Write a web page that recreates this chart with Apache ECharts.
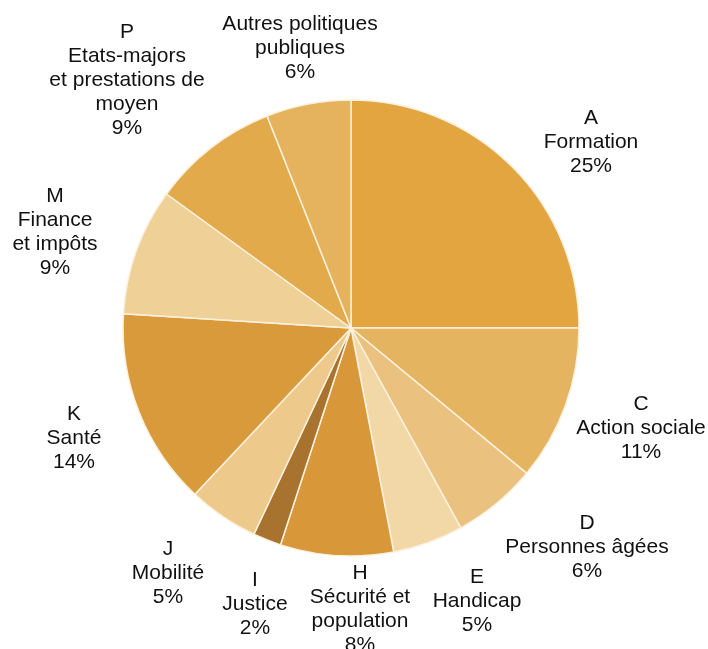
<!DOCTYPE html>
<html>
<head>
<meta charset="utf-8">
<script src="https://cdn.jsdelivr.net/npm/echarts@6/dist/echarts.min.js"></script>
<style>
  html, body { margin: 0; padding: 0; background: #ffffff; }
  #chart { width: 708px; height: 649px; }
</style>
</head>
<body>
<div id="chart"></div>
<script>
// Budget breakdown by public policy area (share of total, %)
const categories = [
  'A\nFormation',
  'C\nAction sociale',
  'D\nPersonnes âgées',
  'E\nHandicap',
  'H\nSécurité et\npopulation',
  'I\nJustice',
  'J\nMobilité',
  'K\nSanté',
  'M\nFinance\net impôts',
  'P\nEtats-majors\net prestations de\nmoyen',
  'Autres politiques\npubliques'
];
const shares = [25, 11, 6, 5, 8, 2, 5, 14, 9, 9, 6];
const sliceColors = [
  '#E3A53F', '#E5B460', '#EAC17F', '#F2D8A6', '#D8983A', '#A8722F',
  '#EDCA8C', '#D89A3A', '#EFD096', '#E2AA4A', '#E5B35E'
];
// Label anchor points (centre of each text block), in pixels
const labelCenters = [
  [591, 142], [641, 428], [587, 547], [477, 601], [360, 609], [255, 604],
  [168, 573], [74, 438], [55, 232], [127, 80], [300, 48]
];

const chart = echarts.init(document.getElementById('chart'), null, { renderer: 'canvas' });

chart.setOption({
  animation: false,
  backgroundColor: '#ffffff',
  series: [{
    type: 'pie',
    center: [351, 328],
    radius: 228,
    startAngle: 90,
    clockwise: true,
    avoidLabelOverlap: false,
    itemStyle: { borderColor: '#FBF1DE', borderWidth: 1.5 },
    label: {
      show: true,
      position: 'outside',
      formatter: '{b}\n{c}%',
      fontFamily: 'Liberation Sans, Arial, sans-serif',
      fontSize: 21,
      lineHeight: 24,
      color: '#111111',
      align: 'center'
    },
    labelLine: { show: false },
    labelLayout: function (params) {
      const p = labelCenters[params.dataIndex];
      return { x: p[0], y: p[1], align: 'center', verticalAlign: 'middle' };
    },
    data: categories.map((name, i) => ({
      name: name,
      value: shares[i],
      itemStyle: { color: sliceColors[i] }
    }))
  }]
});
</script>
</body>
</html>
